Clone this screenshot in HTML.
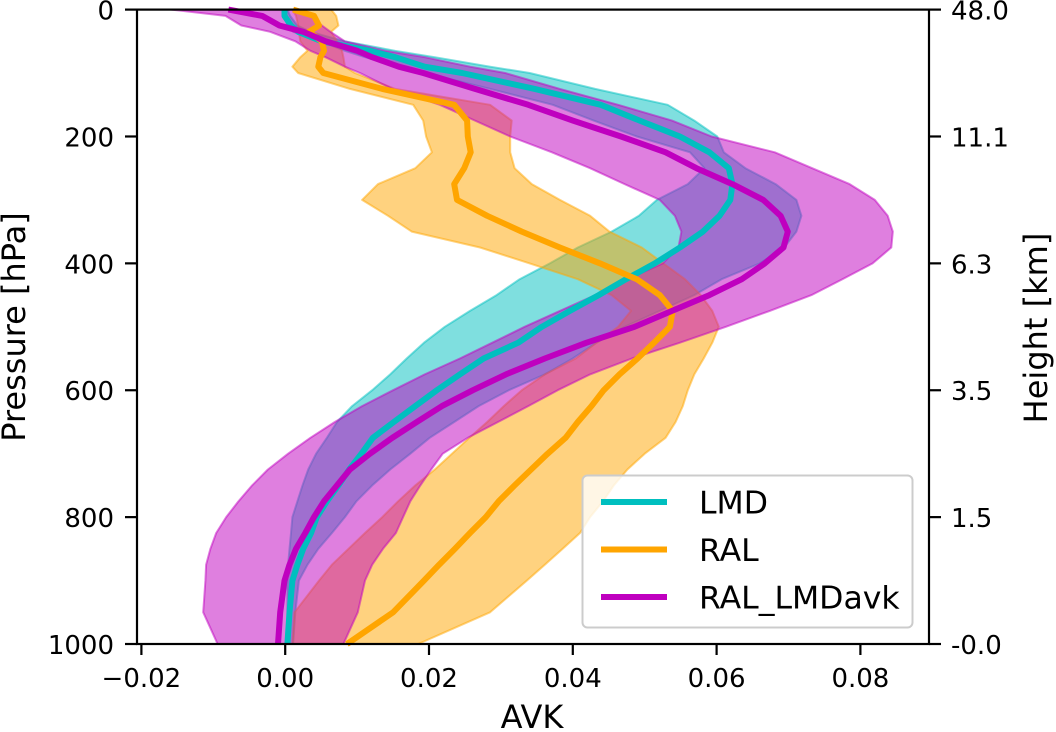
<!DOCTYPE html>
<html lang="en">
<head>
<meta charset="utf-8">
<title>AVK profile chart</title>
<style>
html,body{margin:0;padding:0;background:#fff;width:1056px;height:732px;overflow:hidden}
svg{display:block}
text{font-family:"DejaVu Sans","Liberation Sans",sans-serif;fill:#000}
</style>
</head>
<body>
<svg id="chart" xmlns="http://www.w3.org/2000/svg" width="1056" height="732" viewBox="0 0 1056 732"></svg>
<script>
// Pressure levels in hPa; AVK series are in units of 1e-4.
const pressure = [0,10,25,35,50,65,75,90,100,125,150,175,200,225,250,275,300,325,350,375,400,425,450,475,500,525,550,575,600,625,650,675,700,725,750,775,800,825,850,875,900,950,1000];
const lmdMean = [-1,-1,8,18,51,118,153,194,246,347,439,493,549,590,617,622,619,604,581,549,514,474,436,396,357,324,276,243,211,181,151,122,106,89,74,58,44,36,25,17,10,6,3];
const lmdLow = [-3,-1,3,11,49,83,111,160,194,285,372,429,489,563,583,560,517,492,454,407,368,326,294,257,222,193,169,146,121,93,72,58,43,32,24,17,10,8,6,4,3,3,4];
const lmdHigh = [3,7,17,35,83,153,208,285,340,431,532,569,601,610,640,682,711,718,711,694,660,607,569,521,472,433,400,361,311,269,235,201,174,146,121,99,83,65,46,31,19,14,11];
const ralMean = [11,40,47,33,51,54,49,46,53,135,235,253,254,258,249,235,239,281,329,382,438,489,521,539,535,513,490,465,443,426,407,390,365,342,319,297,279,257,236,214,193,150,86];
const ralLow = [10,15,18,19,21,31,21,10,18,90,178,192,196,204,181,129,107,143,176,271,340,407,454,481,463,433,404,361,329,304,281,256,232,208,181,157,135,111,88,65,47,13,10];
const ralHigh = [64,71,74,64,72,79,81,83,97,153,285,315,313,313,319,343,382,424,451,496,526,556,578,594,603,594,582,569,560,553,543,529,500,476,457,442,424,410,386,361,336,285,185];
const avkMean = [-79,-32,-8,25,56,100,121,158,192,264,338,400,467,529,572,622,665,689,699,693,667,635,590,538,486,419,361,307,261,218,183,149,118,90,72,54,40,28,15,6,-1,-7,-10];
const avkLow = [-158,-83,-61,-21,14,35,56,83,104,149,215,264,313,371,424,472,521,542,551,547,525,476,431,382,333,288,243,194,150,107,69,35,4,-24,-46,-65,-82,-96,-104,-110,-111,-114,-94];
const avkHigh = [11,35,51,63,83,139,194,257,306,382,463,538,593,681,733,785,820,838,845,843,817,775,732,674,613,549,482,424,379,338,296,254,219,203,188,174,164,154,136,121,111,101,81];
const xTickValues = [-0.02,0,0.02,0.04,0.06,0.08];
const xTickLabels = ["\u22120.02","0.00","0.02","0.04","0.06","0.08"];
const yTickValues = [0,200,400,600,800,1000];
const yTickLabels = ["0","200","400","600","800","1000"];
const heightTickLabels = ["48.0","11.1","6.3","3.5","1.5","-0.0"];

const svg = document.getElementById('chart');
const NS = 'http://www.w3.org/2000/svg';
const plotLeft = 137, plotRight = 929, plotTop = 9.6, plotBottom = 644;
const seriesUnit = 1e-4;
function xScale(v){ return 285.2 + v * 7190; }
function yScale(p){ return plotTop + p * (plotBottom - plotTop) / 1000; }
function make(tag, attrs, text){
  const el = document.createElementNS(NS, tag);
  for (const k in attrs) el.setAttribute(k, attrs[k]);
  if (text !== undefined) el.textContent = text;
  svg.appendChild(el);
  return el;
}
function point(v, p){ return xScale(v * seriesUnit).toFixed(1) + ',' + yScale(p).toFixed(1); }

const bands = [
  {name:'lmd', low:lmdLow, high:lmdHigh, color:'#00bfbf'},
  {name:'ral', low:ralLow, high:ralHigh, color:'#ffa500'},
  {name:'ral-lmdavk', low:avkLow, high:avkHigh, color:'#bf00bf'}
];
bands.forEach(function(b){
  const up = pressure.map(function(p,i){ return point(b.high[i], p); });
  const down = pressure.map(function(p,i){ return point(b.low[i], p); }).reverse();
  const el = make('polygon', {points: up.concat(down).join(' '), fill:b.color, 'fill-opacity':0.5, stroke:b.color, 'stroke-opacity':0.5, 'stroke-width':2, 'stroke-linejoin':'round'});
  
  
});

const lines = [
  {name:'lmd', values:lmdMean, color:'#00bfbf'},
  {name:'ral', values:ralMean, color:'#ffa500'},
  {name:'ral-lmdavk', values:avkMean, color:'#bf00bf'}
];
lines.forEach(function(l){
  const pts = pressure.map(function(p,i){ return point(l.values[i], p); }).join(' ');
  const el = make('polyline', {points: pts, fill:'none', stroke:l.color, 'stroke-width':6, 'stroke-linejoin':'round'});
  
  
});

const frame = make('rect', {x:plotLeft, y:plotTop, width:plotRight-plotLeft, height:plotBottom-plotTop, fill:'none', stroke:'#000', 'stroke-width':2.2});



xTickValues.forEach(function(v,i){
  const x = xScale(v);
  const t = make('line', {x1:x, x2:x, y1:plotBottom, y2:plotBottom+11, stroke:'#000', 'stroke-width':2.2});
  
  
  const l = make('text', {x:x, y:687, 'font-size':26, 'text-anchor':'middle'}, xTickLabels[i]);
  
  
});
yTickValues.forEach(function(p,i){
  const y = yScale(p);
  const t = make('line', {x1:plotLeft-12, x2:plotLeft, y1:y, y2:y, stroke:'#000', 'stroke-width':2.2});
  
  
  const l = make('text', {x:114, y:y+10, 'font-size':26, 'text-anchor':'end'}, yTickLabels[i]);
  
  
  const t2 = make('line', {x1:plotRight, x2:plotRight+12, y1:y, y2:y, stroke:'#000', 'stroke-width':2.2});
  
  
  const l2 = make('text', {x:951, y:y+10, 'font-size':26}, heightTickLabels[i]);
  
  
});

const xTitle = make('text', {x:532, y:728, 'font-size':32, 'text-anchor':'middle'}, 'AVK');


const yTitle = make('text', {x:0, y:0, 'font-size':32, 'text-anchor':'middle', transform:'translate(25 327) rotate(-90)'}, 'Pressure [hPa]');


const rTitle = make('text', {x:0, y:0, 'font-size':32, 'text-anchor':'middle', transform:'translate(1047 328) rotate(-90)'}, 'Height [km]');



const legendBox = make('rect', {x:582.5, y:475.5, width:330, height:152, rx:5, fill:'#fff', 'fill-opacity':0.8, stroke:'#ccc', 'stroke-width':2});


const legendNames = ['LMD','RAL','RAL_LMDavk'];
const legendColors = ['#00bfbf','#ffa500','#bf00bf'];
legendNames.forEach(function(n,i){
  const y = 502 + i * 47.5;
  const s = make('line', {x1:601, x2:667, y1:y, y2:y, stroke:legendColors[i], 'stroke-width':6});
  
  
  const t = make('text', {x:699, y:y+11.5, 'font-size':31.5}, n);
  
  
});
</script>
</body>
</html>
